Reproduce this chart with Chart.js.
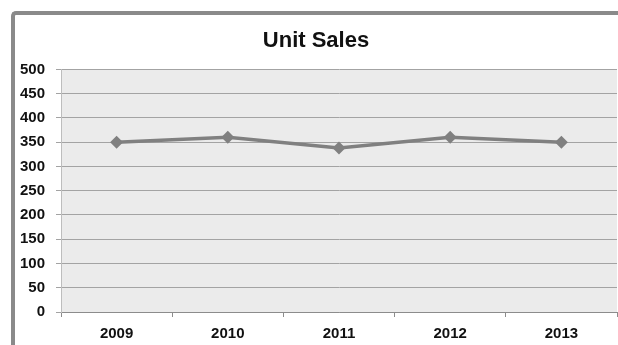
<!DOCTYPE html>
<html>
<head>
<meta charset="utf-8">
<script src="https://cdn.jsdelivr.net/npm/chart.js@4/dist/chart.umd.min.js"></script>
<style>
  html, body { margin: 0; padding: 0; background: #fff; overflow: hidden; }
  body { width: 618px; height: 345px; position: relative; }
  #frame {
    position: absolute; left: 11px; top: 11px; width: 640px; height: 360px;
    border-left: 4px solid #8a8a8a; border-top: 4px solid #8a8a8a;
    border-top-left-radius: 5px; box-sizing: border-box;
  }
  #wrap { position: absolute; left: 0; top: 0; width: 618px; height: 345px; }
</style>
</head>
<body>
<div id="frame"></div>
<div id="wrap"><canvas id="myChart"></canvas></div>
<script>
var years = ['2009', '2010', '2011', '2012', '2013'];
var unitSales = [350, 360, 338, 360, 350];
var yTicks = [0, 50, 100, 150, 200, 250, 300, 350, 400, 450, 500];

// light gray fill behind the plot
var plotBg = {
    id: 'plotBg',
    beforeDraw: function(chart) {
        var a = chart.chartArea, ctx = chart.ctx;
        ctx.save();
        ctx.fillStyle = '#ebebeb';
        ctx.fillRect(a.left, a.top, a.right - a.left, a.bottom - a.top);
        ctx.restore();
    }
};

var ctx = document.getElementById('myChart').getContext('2d');
var myChart = new Chart(ctx, {
    type: 'line',
    data: {
        labels: years,
        datasets: [{
            label: 'Unit Sales',
            data: unitSales,
            borderColor: '#808080',
            backgroundColor: '#808080',
            borderWidth: 3.5,
            pointStyle: 'rectRot',
            pointRadius: 4,
            tension: 0
        }]
    },
    options: {
        responsive: true,
        maintainAspectRatio: false,
        animation: false,
        layout: { autoPadding: false, padding: { left: 15, right: 1, top: 0, bottom: 0 } },
        plugins: {
            legend: { display: false },
            tooltip: { enabled: false },
            title: {
                display: true,
                text: 'Unit Sales',
                color: '#111',
                font: { family: 'Liberation Sans', size: 22, weight: 'bold' },
                padding: { top: 28, bottom: 15 }
            }
        },
        scales: {
            x: {
                offset: true,
                afterFit: function(scale) {
                    scale.height = 33;
                    scale.paddingLeft = 0;
                    scale.paddingRight = 0;
                },
                grid: { offset: true, drawOnChartArea: false, drawTicks: true, tickLength: 5, color: '#8c8c8c' },
                border: { color: '#8c8c8c', width: 1 },
                ticks: {
                    color: '#111',
                    padding: 8,
                    font: { family: 'Liberation Sans', size: 15, weight: 'bold' }
                }
            },
            y: {
                min: 0,
                max: 500,
                afterFit: function(scale) { scale.width = 46; },
                afterBuildTicks: function(scale) {
                    scale.ticks = yTicks.map(function(v) { return { value: v }; });
                },
                grid: { color: '#a3a3a3', tickLength: 5, drawTicks: true },
                border: { color: '#bdbdbd' },
                ticks: {
                    color: '#111',
                    padding: 11,
                    font: { family: 'Liberation Sans', size: 15, weight: 'bold' }
                }
            }
        }
    },
    plugins: [plotBg]
});
</script>
</body>
</html>
